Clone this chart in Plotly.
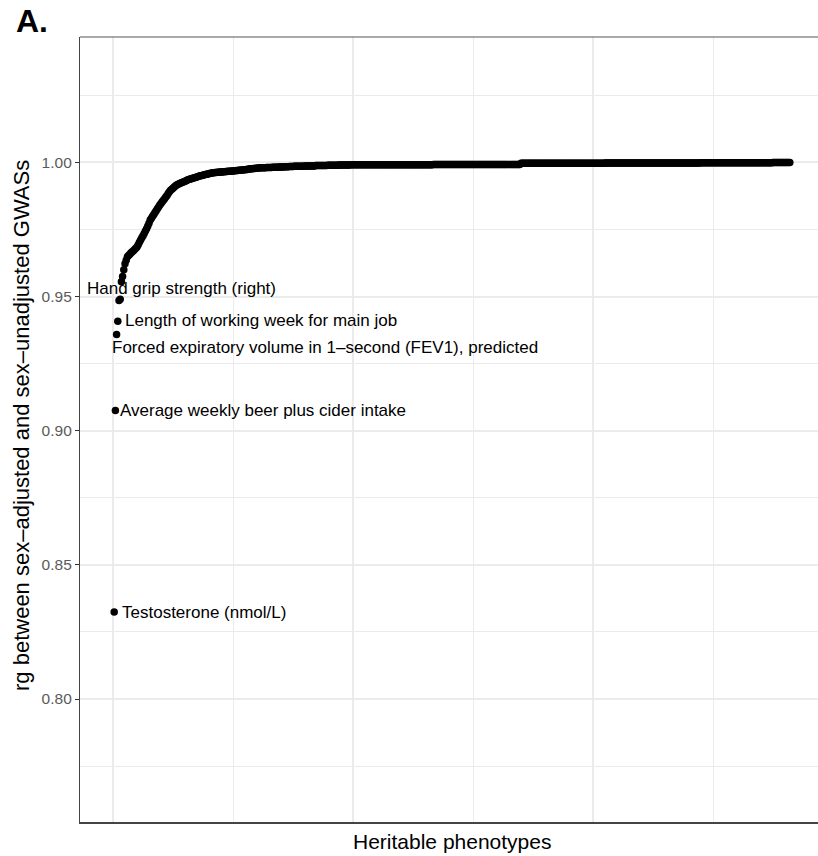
import plotly.graph_objects as go

# ---------------- data ----------------
# rg between sex-adjusted and sex-unadjusted GWASs, heritable phenotypes sorted by rg
rg_values = [
    0.8324, 0.9075, 0.9359, 0.9408, 0.9485, 0.9490,
    0.9555, 0.9575, 0.9600, 0.9622, 0.9635, 0.9648,
    0.9653, 0.9658, 0.9663, 0.9667, 0.9671, 0.9675, 0.9680, 0.9685,
    0.9693, 0.9702, 0.9711, 0.9719, 0.9727, 0.9735,
    0.9744, 0.9753, 0.9763, 0.9773, 0.9785,
    0.9792, 0.9799, 0.9806, 0.9813, 0.9820, 0.9827, 0.9834, 0.9841,
    0.9847, 0.9853, 0.9859, 0.9865, 0.9871, 0.9877, 0.9884, 0.9891,
    0.9896, 0.9900, 0.9904, 0.9908, 0.9912, 0.9916,
    0.9918, 0.9920, 0.9922, 0.9924, 0.9926, 0.9928, 0.9930, 0.9932, 0.9934, 0.9936, 0.9937, 0.9939, 0.9940, 0.9942,
    0.9943, 0.9945, 0.9946, 0.9947, 0.9949, 0.9950, 0.9951, 0.9952, 0.9954, 0.9955, 0.9956, 0.9957, 0.9958, 0.9960,
    0.9960, 0.9961, 0.9961, 0.9962, 0.9962, 0.9963, 0.9963, 0.9964, 0.9964, 0.9964, 0.9965, 0.9965, 0.9966, 0.9966,
    0.9967, 0.9967, 0.9967, 0.9968, 0.9968, 0.9969, 0.9969, 0.9970, 0.9970, 0.9971, 0.9971, 0.9972, 0.9972, 0.9973,
    0.9973, 0.9974, 0.9974, 0.9975, 0.9975, 0.9976, 0.9976, 0.9977, 0.9977, 0.9978, 0.9978, 0.9979, 0.9979,
    0.9980, 0.9980, 0.9980, 0.9980, 0.9980, 0.9981, 0.9981, 0.9981, 0.9981, 0.9981,
    0.9982, 0.9982, 0.9982, 0.9982, 0.9982, 0.9983, 0.9983, 0.9983, 0.9983, 0.9983,
    0.9984, 0.9984, 0.9984, 0.9984, 0.9985, 0.9985, 0.9985, 0.9985,
    0.9986, 0.9986, 0.9986, 0.9986, 0.9986, 0.9986, 0.9986, 0.9986, 0.9986,
    0.9987, 0.9987, 0.9987, 0.9987, 0.9987, 0.9987, 0.9987, 0.9987, 0.9987,
    0.9988, 0.9988, 0.9988, 0.9988, 0.9988, 0.9988, 0.9988, 0.9988, 0.9988, 0.9988,
    0.9989, 0.9989, 0.9989, 0.9989, 0.9989, 0.9989, 0.9989, 0.9989, 0.9989,
    0.9990, 0.9990, 0.9990, 0.9990, 0.9990, 0.9990, 0.9990, 0.9990, 0.9990, 0.9990,
    0.9991, 0.9991, 0.9991, 0.9991, 0.9991, 0.9991, 0.9991, 0.9991, 0.9991,
    0.9991, 0.9991, 0.9991, 0.9991, 0.9991, 0.9991, 0.9991, 0.9991, 0.9991, 0.9991,
    0.9991, 0.9991, 0.9991, 0.9991, 0.9991, 0.9991, 0.9991, 0.9991, 0.9991, 0.9991,
    0.9991, 0.9991, 0.9991, 0.9991, 0.9991, 0.9991, 0.9991, 0.9991, 0.9991, 0.9991,
    0.9991, 0.9991, 0.9991, 0.9991, 0.9991, 0.9991, 0.9991, 0.9991, 0.9991, 0.9991,
    0.9991, 0.9991, 0.9991, 0.9991, 0.9991, 0.9991, 0.9991, 0.9991, 0.9991, 0.9991,
    0.9991, 0.9991, 0.9991, 0.9991, 0.9991, 0.9991, 0.9991, 0.9991, 0.9991, 0.9991,
    0.9992, 0.9992, 0.9992, 0.9992, 0.9992, 0.9992, 0.9992, 0.9992, 0.9992, 0.9992,
    0.9992, 0.9992, 0.9992, 0.9992, 0.9992, 0.9992, 0.9992, 0.9992, 0.9992, 0.9992,
    0.9992, 0.9992, 0.9992, 0.9992, 0.9992, 0.9992, 0.9992, 0.9992, 0.9992, 0.9992,
    0.9992, 0.9992, 0.9992, 0.9992, 0.9992, 0.9992, 0.9992, 0.9992, 0.9992, 0.9992,
    0.9992, 0.9992, 0.9992, 0.9992, 0.9992, 0.9992, 0.9992, 0.9992, 0.9992, 0.9992,
    0.9992, 0.9992, 0.9992, 0.9992, 0.9992, 0.9992, 0.9992, 0.9992, 0.9992, 0.9992,
    0.9992, 0.9992, 0.9992, 0.9992, 0.9992, 0.9992, 0.9992, 0.9992, 0.9992, 0.9992,
    0.9992, 0.9992, 0.9992,
    0.9997, 0.9997, 0.9997, 0.9997, 0.9997, 0.9997, 0.9997, 0.9997, 0.9997, 0.9997,
    0.9997, 0.9997, 0.9997, 0.9997, 0.9997, 0.9997, 0.9997, 0.9997, 0.9997, 0.9997,
    0.9997, 0.9997, 0.9997, 0.9997, 0.9997, 0.9997, 0.9997, 0.9997, 0.9997, 0.9997,
    0.9997, 0.9997, 0.9997, 0.9997, 0.9997, 0.9997, 0.9997, 0.9997, 0.9997, 0.9997,
    0.9997, 0.9997, 0.9997, 0.9997, 0.9997, 0.9997, 0.9997, 0.9997, 0.9997, 0.9997,
    0.9997, 0.9997, 0.9997, 0.9997, 0.9997, 0.9997, 0.9997, 0.9997, 0.9997, 0.9997,
    0.9997, 0.9997, 0.9997, 0.9997, 0.9997, 0.9997, 0.9997, 0.9997, 0.9997, 0.9997,
    0.9998, 0.9998, 0.9998, 0.9998, 0.9998, 0.9998, 0.9998, 0.9998, 0.9998, 0.9998,
    0.9998, 0.9998, 0.9998, 0.9998, 0.9998, 0.9998, 0.9998, 0.9998, 0.9998, 0.9998,
    0.9998, 0.9998, 0.9998, 0.9998, 0.9998, 0.9998, 0.9998, 0.9998, 0.9998, 0.9998,
    0.9998, 0.9998, 0.9998, 0.9998, 0.9998, 0.9998, 0.9998, 0.9998, 0.9998, 0.9998,
    0.9998, 0.9998, 0.9998, 0.9998, 0.9998, 0.9998, 0.9998, 0.9998, 0.9998, 0.9998,
    0.9998, 0.9998, 0.9998, 0.9998, 0.9998, 0.9998, 0.9998, 0.9998, 0.9998, 0.9998,
    0.9998, 0.9998, 0.9998, 0.9998, 0.9998, 0.9998, 0.9998, 0.9998, 0.9998, 0.9998,
    0.9998, 0.9998, 0.9998, 0.9998, 0.9998, 0.9998, 0.9998, 0.9998, 0.9998, 0.9998,
    0.9999, 0.9999, 0.9999, 0.9999, 0.9999, 0.9999, 0.9999, 0.9999, 0.9999, 0.9999,
    0.9999, 0.9999, 0.9999, 0.9999, 0.9999, 0.9999, 0.9999, 0.9999, 0.9999, 0.9999,
    0.9999, 0.9999, 0.9999, 0.9999, 0.9999, 0.9999, 0.9999, 0.9999, 0.9999, 0.9999,
    0.9999, 0.9999, 0.9999, 0.9999, 0.9999, 0.9999, 0.9999, 0.9999, 0.9999, 0.9999,
    0.9999, 0.9999, 0.9999, 0.9999, 0.9999, 0.9999, 0.9999, 0.9999, 0.9999, 0.9999,
    0.9999, 0.9999, 0.9999, 0.9999, 0.9999, 0.9999, 0.9999, 0.9999, 0.9999, 0.9999,
    1.0000, 1.0000, 1.0000, 1.0000, 1.0000, 1.0000, 1.0000, 1.0000, 1.0000, 1.0000,
    1.0000, 1.0000, 1.0000, 1.0000, 1.0000,
]
phenotype_rank = list(range(1, len(rg_values) + 1))

# labelled phenotypes: (rank, label)
label_ranks = [1, 2, 3, 4, 5]
label_texts = [
    "Testosterone (nmol/L)",
    "Average weekly beer plus cider intake",
    "Forced expiratory volume in 1–second (FEV1), predicted",
    "Length of working week for main job",
    "Hand grip strength (right)",
]
# pixel offsets of each label from its point (repel-style placement)
label_xshift = [6, 3, -7, 5, -34]
label_yshift = [0, 0, -13, 1, 12]

y_tick_vals = [0.80, 0.85, 0.90, 0.95, 1.00]
y_tick_text = ["0.80", "0.85", "0.90", "0.95", "1.00"]
x_major = [0, 200, 400]

x_title = "Heritable phenotypes"
y_title = "rg between sex–adjusted and sex–unadjusted GWASs"
panel_tag = "A."

# ---------------- layout geometry ----------------
W, H = 818, 856
ML, MR, MT, MB = 80, 0, 37, 34
PW, PH = W - ML - MR, H - MT - MB


def px_x(px):
    return (px - ML) / PW


def px_y(py):
    return (H - MB - py) / PH


FONT = "Liberation Sans"
GRID = "#ebebeb"

fig = go.Figure()
fig.add_trace(go.Scatter(
    x=phenotype_rank, y=rg_values, mode="markers",
    marker=dict(color="black", size=7.5, line=dict(width=0)),
    hoverinfo="x+y", showlegend=False,
))

for r, t, dx, dy in zip(label_ranks, label_texts, label_xshift, label_yshift):
    fig.add_annotation(
        x=r, y=rg_values[r - 1], xref="x", yref="y", text=t, showarrow=False,
        xanchor="left", yanchor="middle", xshift=dx, yshift=dy,
        font=dict(family=FONT, size=17, color="black"),
    )

fig.add_annotation(
    x=px_x(452), y=px_y(841), xref="paper", yref="paper", text=x_title,
    showarrow=False, xanchor="center", yanchor="middle",
    font=dict(family=FONT, size=21, color="black"),
)
fig.add_annotation(
    x=px_x(21), y=px_y(426), xref="paper", yref="paper", text=y_title,
    showarrow=False, xanchor="center", yanchor="middle", textangle=-90,
    font=dict(family=FONT, size=22, color="black"),
)
fig.add_annotation(
    x=px_x(14), y=px_y(21), xref="paper", yref="paper", text="<b>" + panel_tag + "</b>",
    showarrow=False, xanchor="left", yanchor="middle",
    font=dict(family=FONT, size=32, color="black"),
)

# top border of the panel
fig.add_shape(type="line", xref="paper", yref="paper", x0=0, x1=1, y0=1, y1=1,
              line=dict(color="#555555", width=1.2))

fig.update_xaxes(
    range=[(ML - 113) / 1.2, (W - 113) / 1.2],
    tickmode="array", tickvals=x_major, showticklabels=False, ticks="",
    showgrid=True, gridcolor=GRID, gridwidth=1.6,
    minor=dict(tickmode="linear", tick0=0, dtick=100, showgrid=True, gridcolor=GRID, gridwidth=1.0),
    zeroline=False, showline=True, linecolor="#444444", linewidth=1.6,
)
fig.update_yaxes(
    range=[0.75416, 1.04674],
    tickmode="array", tickvals=y_tick_vals, ticktext=y_tick_text,
    ticks="outside", ticklen=4, tickwidth=1.1, tickcolor="#333333",
    tickfont=dict(family=FONT, size=15.5, color="#5a5a5a"),
    showgrid=True, gridcolor=GRID, gridwidth=1.6,
    minor=dict(tickmode="linear", tick0=0.775, dtick=0.05, showgrid=True, gridcolor=GRID, gridwidth=1.0),
    zeroline=False, showline=True, linecolor="#444444", linewidth=1.3,
)

fig.update_layout(
    width=W, height=H, autosize=False,
    margin=dict(l=ML, r=MR, t=MT, b=MB, pad=0),
    paper_bgcolor="white", plot_bgcolor="white",
    font=dict(family=FONT, color="black"),
    showlegend=False,
)

fig.write_html(
    "out.html",
    config={"displayModeBar": False},
    post_script="document.body.style.margin='0px';document.body.style.overflow='hidden';",
)
